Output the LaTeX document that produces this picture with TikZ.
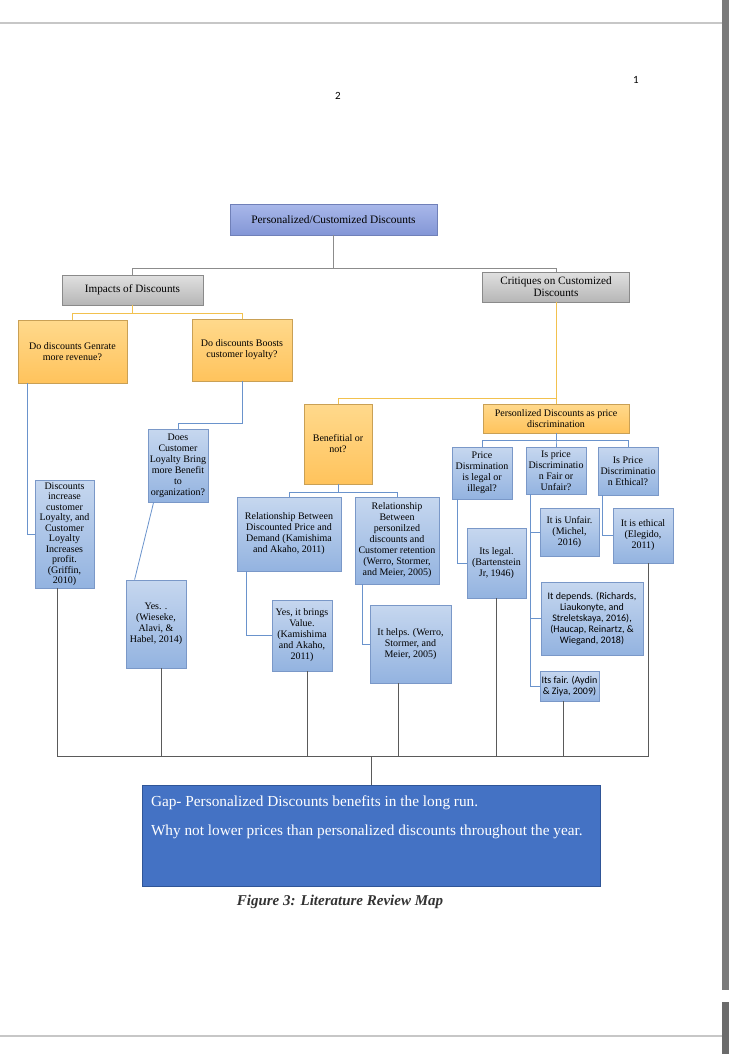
\documentclass[tikz,border=0pt]{standalone}
\usepackage{fontspec}
\setmainfont{Liberation Serif}
\newfontfamily\calibri{Carlito}
\usepackage{xcolor}

\definecolor{headtop}{HTML}{A9B8EA}
\definecolor{headbot}{HTML}{8396D6}
\definecolor{headline}{HTML}{7080B8}
\definecolor{greytop}{HTML}{E0E0E0}
\definecolor{greybot}{HTML}{B6B6B6}
\definecolor{greyline}{HTML}{8A8A8A}
\definecolor{goldtop}{HTML}{FFD98C}
\definecolor{goldbot}{HTML}{FFC35C}
\definecolor{goldline}{HTML}{C9A055}
\definecolor{leaftop}{HTML}{C6D7EF}
\definecolor{leafbot}{HTML}{93B3E0}
\definecolor{leafline}{HTML}{7A98C8}
\definecolor{gapfill}{HTML}{4472C4}
\definecolor{gapline}{HTML}{2F5597}
\definecolor{conngold}{HTML}{F2C14E}
\definecolor{connblue}{HTML}{6A93CC}
\definecolor{conngrey}{HTML}{8C8C8C}
\definecolor{connbus}{HTML}{5A5A5A}

\begin{document}
\begin{tikzpicture}[x=1pt,y=-1pt,line width=0.8pt,
    box/.style={draw,rectangle,align=center,inner sep=1pt,font=\fontsize{10}{11}\selectfont},
    head node/.style={box,draw=headline,top color=headtop,bottom color=headbot,font=\fontsize{11.4}{12.5}\selectfont},
    grey node/.style={box,draw=greyline,top color=greytop,bottom color=greybot,font=\fontsize{11.2}{12}\selectfont},
    gold node/.style={box,draw=goldline,top color=goldtop,bottom color=goldbot},
    leaf node/.style={box,draw=leafline,top color=leaftop,bottom color=leafbot},
    sans leaf/.style={leaf node,font=\calibri\fontsize{10}{11}\selectfont},
    grey line/.style={draw=conngrey},
    gold line/.style={draw=conngold},
    blue line/.style={draw=connblue},
    bus line/.style={draw=connbus},
    page line/.style={draw=black!22,line width=1.2pt}]

    \useasboundingbox[fill=white] (0,0) rectangle (730,1054);

    % page frame
    \draw[page line] (0,23) -- (722,23);
    \draw[page line] (0,1036) -- (722,1036);
    \fill[black!52] (722,0) rectangle (729,990);
    \fill[black!58] (722,1002) rectangle (729,1054);
    \node[font=\calibri\fontsize{11}{13}\selectfont] (p1) at (636,80) {1};
    \node[font=\calibri\fontsize{11}{13}\selectfont] (p2) at (338,96) {2};

    % top levels
    \node[head node,minimum width=207,minimum height=31] (Top) at (333.5,219.5) {Personalized/Customized Discounts};
    \node[grey node,minimum width=141,minimum height=30] (Imp) at (132.5,290) {Impacts of Discounts};
    \node[grey node,minimum width=147,minimum height=30] (Crit) at (556,287) {Critiques on Customized\\Discounts};

    % left branch
    \node[gold node,minimum width=109,minimum height=63] (Q1) at (72.5,351.5) {Do discounts Genrate\\more revenue?};
    \node[gold node,minimum width=100,minimum height=62] (Q2) at (242,350) {Do discounts Boosts\\customer loyalty?};
    \node[leaf node,minimum width=60,minimum height=73] (Does) at (178,465.5) {Does\\Customer\\Loyalty Bring\\more Benefit\\to\\organization?};
    \node[leaf node,minimum width=59,minimum height=108,font=\fontsize{10}{10.5}\selectfont] (Disc) at (64.5,534) {Discounts\\increase\\customer\\Loyalty, and\\Customer\\Loyalty\\Increases\\profit.\\(Griffin,\\2010)};
    \node[leaf node,minimum width=60,minimum height=88] (Yes) at (156,624) {Yes. .\\(Wieseke,\\Alavi, \&\\Habel, 2014)};

    % middle branch
    \node[gold node,minimum width=68,minimum height=80] (Ben) at (338,444) {Benefitial or\\not?};
    \node[leaf node,minimum width=104,minimum height=74] (RelA) at (289,534) {Relationship Between\\Discounted Price and\\Demand (Kamishima\\and Akaho, 2011)};
    \node[leaf node,minimum width=84,minimum height=87] (RelB) at (397,540.5) {Relationship\\Between\\personilzed\\discounts and\\Customer retention\\(Werro, Stormer,\\and Meier, 2005)};
    \node[leaf node,minimum width=60,minimum height=71] (YesVal) at (302,635.5) {Yes, it brings\\Value.\\(Kamishima\\and Akaho,\\2011)};
    \node[leaf node,minimum width=81,minimum height=78] (Helps) at (410.5,644) {It helps. (Werro,\\Stormer, and\\Meier, 2005)};

    % right branch
    \node[gold node,minimum width=146,minimum height=29] (Pers) at (556,418.5) {Personlized Discounts as price\\discrimination};
    \node[leaf node,minimum width=60,minimum height=52] (PL) at (482,473) {Price\\Disrmination\\is legal or\\illegal?};
    \node[leaf node,minimum width=60,minimum height=47] (PF) at (556,470.5) {Is price\\Discriminatio\\n Fair or\\Unfair?};
    \node[leaf node,minimum width=60,minimum height=48] (PE) at (628,471) {Is Price\\Discriminatio\\n Ethical?};
    \node[leaf node,minimum width=59,minimum height=70] (Legal) at (496.5,563) {Its legal.\\(Bartenstein\\Jr, 1946)};
    \node[leaf node,minimum width=59,minimum height=48] (Unfair) at (569.5,532) {It is Unfair.\\(Michel,\\2016)};
    \node[sans leaf,minimum width=102,minimum height=73] (Depends) at (592,618.5) {It depends. (Richards,\\Liaukonyte, and\\Streletskaya, 2016),\\(Haucap, Reinartz, \&\\Wiegand, 2018)};
    \node[sans leaf,minimum width=59,minimum height=30] (Fair) at (569.5,686) {Its fair. (Aydin\\\& Ziya, 2009)};
    \node[leaf node,minimum width=60,minimum height=55] (Ethical) at (643,535.5) {It is ethical\\(Elegido,\\2011)};

    % gap box
    \node[draw=gapline,fill=gapfill,minimum width=458,minimum height=101] (Gap) at (371,835.5) {};
    \node[anchor=north west,inner sep=0pt,align=left,text=white,font=\fontsize{15.3}{18}\selectfont] (GapText) at ([shift={(9pt,-11pt)}]Gap.north west) {Gap- Personalized Discounts benefits in the long run.\\[11pt]Why not lower prices than personalized discounts throughout the year.};
    \node[font=\bfseries\itshape\fontsize{15}{17}\selectfont,text=black!80] (Caption) at (340,902) {Figure 3: Literature Review Map};
    \coordinate (bus) at (371,756);

    % connectors
    \draw[grey line] (Top.south) -- ++(0,33) -| (Imp.north);
    \draw[grey line] (Top.south) -- ++(0,33) -| (Crit.north);
    \draw[gold line] (Imp.south) -- ++(0,8) -| (Q1.north);
    \draw[gold line] (Imp.south) -- ++(0,8) -| (Q2.north);
    \draw[blue line] ([xshift=10pt]Q1.south west) |- (Disc.west);
    \draw[blue line] (Q2.south) -- ++(0,42) -| (Does.north);
    \draw[blue line] ([xshift=6pt]Does.south west) -- ([xshift=9pt]Yes.north west);
    \draw[gold line] (Crit.south) -- ++(0,96) -| (Ben.north);
    \draw[gold line] (Crit.south) -- (Pers.north);
    \draw[blue line] (Ben.south) -- ++(0,8) -| (RelA.north);
    \draw[blue line] (Ben.south) -- ++(0,8) -| (RelB.north);
    \draw[blue line] ([xshift=10pt]RelA.south west) |- (YesVal.west);
    \draw[blue line] ([xshift=8pt]RelB.south west) |- (Helps.west);
    \foreach \q in {PL,PF,PE}
        \draw[blue line] (Pers.south) -- ++(0,7) -| (\q.north);
    \draw[blue line] ([xshift=6pt]PL.south west) |- (Legal.west);
    \foreach \a in {Unfair,Depends,Fair}
        \draw[blue line] ([xshift=5pt]PF.south west) |- (\a.west);
    \draw[blue line] ([xshift=5pt]PE.south west) |- (Ethical.west);

    % everything runs down into the gap
    \foreach \leaf/\dx in {Disc/-7.5,Yes/5,YesVal/5,Helps/-12.5,Legal/0,Fair/-6.5,Ethical/5}
        \draw[bus line] ([xshift=\dx pt]\leaf.south) |- (bus);
    \draw[bus line] (bus) -- (Gap.north);
\end{tikzpicture}
\end{document}
